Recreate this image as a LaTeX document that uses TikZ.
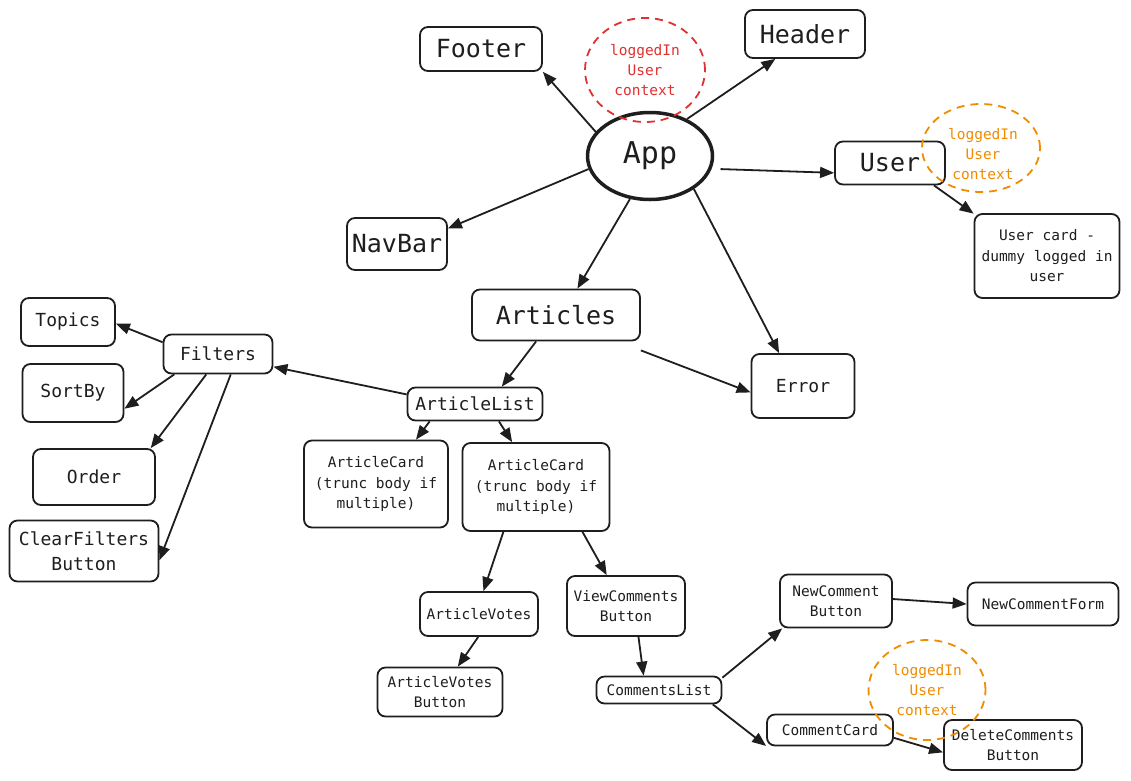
\documentclass[tikz,border=0pt]{standalone}
\usepackage{fontspec}
\setmonofont{DejaVu Sans Mono}
\usetikzlibrary{shapes.geometric,arrows.meta}
\definecolor{ink}{HTML}{1E1E1E}
\definecolor{ctxred}{HTML}{E03131}
\definecolor{ctxorange}{HTML}{F08C00}
\begin{document}
\begin{tikzpicture}[x=1pt,y=-1pt,
  box/.style={draw=ink,line width=1.8pt,rounded corners=8pt,inner sep=0pt,align=center,text=ink},
  lg/.style={box,font=\ttfamily\fontsize{25}{30}\selectfont},
  md/.style={box,font=\ttfamily\fontsize{18}{25}\selectfont},
  sm/.style={box,font=\ttfamily\fontsize{14.5}{20.5}\selectfont},
  ctx/.style={ellipse,draw=#1,text=#1,dashed,dash pattern=on 8pt off 6pt,line width=1.8pt,inner sep=0pt,align=center,font=\ttfamily\fontsize{14.5}{20}\selectfont},
  ctxtext/.style={text=#1,inner sep=0pt,align=center,font=\ttfamily\fontsize{14.5}{20}\selectfont},
  link/.style={draw=ink,line width=1.8pt,-{Triangle[length=14pt,width=11pt]}}
]
\fill[white] (0,0) rectangle (1131,780);
\useasboundingbox (0,0) rectangle (1131,780);

% nodes
\node[ellipse,draw=ink,line width=3.5pt,inner sep=0pt,minimum width=125pt,minimum height=87pt,text=ink,font=\ttfamily\fontsize{30}{34}\selectfont] (App) at (650,156) {App};
\node[lg,minimum width=122pt,minimum height=44pt] (Footer) at (481,49) {Footer};
\node[lg,minimum width=120pt,minimum height=48pt] (Header) at (805,34) {Header};
\node[lg,minimum width=110pt,minimum height=43pt] (User) at (890,163) {User};
\node[sm,minimum width=145pt,minimum height=84pt] (UserCard) at (1047,256) {User card -\\dummy logged in\\user};
\node[lg,minimum width=100pt,minimum height=52pt] (NavBar) at (397,244) {NavBar};
\node[lg,minimum width=168pt,minimum height=51pt] (Articles) at (556,315) {Articles};
\node[md,minimum width=103pt,minimum height=64pt] (Error) at (803,386) {Error};
\node[md,minimum width=109pt,minimum height=39pt] (Filters) at (218,354) {Filters};
\node[md,minimum width=94pt,minimum height=48pt] (Topics) at (68,322) {Topics};
\node[md,minimum width=101pt,minimum height=58pt] (SortBy) at (73,393) {SortBy};
\node[md,minimum width=122pt,minimum height=56pt] (Order) at (94,477) {Order};
\node[md,minimum width=149pt,minimum height=61pt] (Clear) at (84,551) {ClearFilters\\Button};
\node[md,minimum width=135pt,minimum height=33pt] (AList) at (475,404) {ArticleList};
\node[sm,minimum width=144pt,minimum height=87pt] (ACa) at (376,484) {ArticleCard\\(trunc body if\\multiple)};
\node[sm,minimum width=147pt,minimum height=88pt] (ACb) at (536,487) {ArticleCard\\(trunc body if\\multiple)};
\node[sm,minimum width=118pt,minimum height=44pt] (AV) at (479,614) {ArticleVotes};
\node[sm,minimum width=125pt,minimum height=49pt] (AVB) at (440,692) {ArticleVotes\\Button};
\node[sm,minimum width=118pt,minimum height=60pt] (VC) at (626,606) {ViewComments\\Button};
\node[sm,minimum width=125pt,minimum height=27pt] (CL) at (659,690) {CommentsList};
\node[sm,minimum width=112pt,minimum height=53pt] (NC) at (836,601) {NewComment\\Button};
\node[sm,minimum width=151pt,minimum height=43pt] (NCF) at (1043,604) {NewCommentForm};
\node[sm,minimum width=126pt,minimum height=31pt] (CC) at (830,730) {CommentCard};
\node[sm,minimum width=138pt,minimum height=50pt] (DC) at (1013,745) {DeleteComments\\Button};

% context circles
\node[ctx=ctxred,minimum width=120pt,minimum height=104pt] (ctxA) at (645,70) {loggedIn\\User\\context};
\node[ctx=ctxorange,minimum width=118pt,minimum height=88pt] (ctxB) at (981,148) {};
\node[ctxtext=ctxorange] (ctxBtext) at (983,154) {loggedIn\\User\\context};
\node[ctx=ctxorange,minimum width=117pt,minimum height=100pt] (ctxC) at (927,690) {loggedIn\\User\\context};

% connectors
\draw[link] (App.156) -- (Footer.south east);
\draw[link] (App.45) -- (Header.220);
\draw[link] ([xshift=9pt]App.-12) -- (User.190);
\draw[link] (App.192) -- (NavBar.17);
\draw[link] (App.245) -- (Articles.51);
\draw[link] (App.-37) -- (Error.126);
\draw[link] (User.-27) -- (UserCard.150);
\draw[link] ([yshift=-9pt]Articles.south east) -- (Error.187);
\draw[link] (Articles.233) -- (AList.33);
\draw[link] (AList.172) -- (Filters.-13);
\draw[link] (Filters.168) -- (Topics.-2);
\draw[link] (Filters.205) -- (SortBy.-17);
\draw[link] (Filters.240) -- (Order.27);
\draw[link] (Filters.-58) -- (Clear.-7);
\draw[link] (AList.201) -- (ACa.48);
\draw[link] (AList.-36) -- (ACb.118);
\draw[link] (ACb.234) -- (AV.79);
\draw[link] (ACb.-44) -- (VC.122);
\draw[link] (AV.268) -- (AVB.55);
\draw[link] (VC.-68) -- (CL.137);
\draw[link] (CL.11) -- (NC.207);
\draw[link] (CL.-15) -- (CC.194);
\draw[link] (NC.2) -- (NCF.180);
\draw[link] (CC.-7) -- (DC.186);
\end{tikzpicture}
\end{document}
